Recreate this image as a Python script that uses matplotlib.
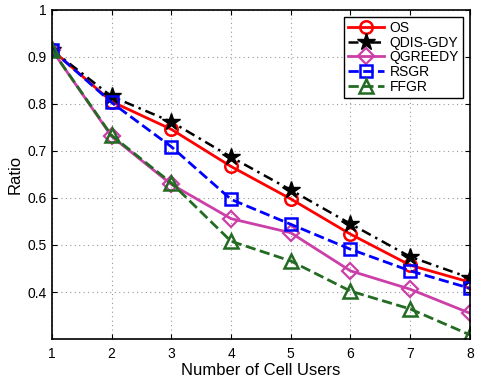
import matplotlib
matplotlib.use("Agg")
import matplotlib.pyplot as plt

plt.rcParams["font.family"] = ["Liberation Sans", "DejaVu Sans"]

# Data
users = [1, 2, 3, 4, 5, 6, 7, 8]
os_ratio = [0.915, 0.805, 0.746, 0.667, 0.598, 0.523, 0.457, 0.421]
qdis_ratio = [0.915, 0.816, 0.762, 0.687, 0.617, 0.545, 0.475, 0.430]
qgreedy_ratio = [0.915, 0.731, 0.629, 0.556, 0.526, 0.445, 0.406, 0.355]
rsgr_ratio = [0.915, 0.803, 0.709, 0.597, 0.544, 0.491, 0.445, 0.408]
ffgr_ratio = [0.915, 0.733, 0.632, 0.508, 0.466, 0.402, 0.364, 0.309]

fig = plt.figure(figsize=(4.8, 3.78), dpi=100)
ax = fig.add_axes([0.108, 0.103, 0.871, 0.871])

pink = "#CC3FA8"
green = "#236B23"

ax.plot(users, os_ratio, "-", color="red", lw=2, marker="o", ms=9,
        mfc="none", mew=1.8, label="OS")
ax.plot(users, qdis_ratio, color="black", lw=1.8, marker="*", ms=13,
        mfc="black", mew=1, label="QDIS-GDY", dashes=(4, 2, 1, 2))
ax.plot(users, qgreedy_ratio, "-", color=pink, lw=2, marker="D", ms=8,
        mfc="none", mew=1.6, label="QGREEDY")
ax.plot(users, rsgr_ratio, "--", color="blue", lw=2, marker="s", ms=8,
        mfc="none", mew=1.8, label="RSGR")
ax.plot(users, ffgr_ratio, "--", color=green, lw=2, marker="^", ms=10,
        mfc="none", mew=1.8, label="FFGR")

ax.set_xlim(1, 8)
ax.set_ylim(0.3, 1.0)
ax.set_xticks(users)
ax.set_yticks([0.4, 0.5, 0.6, 0.7, 0.8, 0.9, 1.0])
ax.set_yticklabels(["0.4", "0.5", "0.6", "0.7", "0.8", "0.9", "1"])
ax.grid(True, color="#999999", lw=0.8, dashes=(1, 3))
ax.tick_params(direction="in", top=True, right=True, labelsize=10)
ax.tick_params(axis="x", pad=6)
for s in ax.spines.values():
    s.set_linewidth(1.2)

ax.set_xlabel("Number of Cell Users", fontsize=12, labelpad=1)
ax.set_ylabel("Ratio", fontsize=12, labelpad=4)

leg = ax.legend(loc="upper right", fontsize=10, fancybox=False, framealpha=1,
                edgecolor="black", handlelength=2.6, borderpad=0.3,
                labelspacing=0.05, handletextpad=0.4, borderaxespad=0.5)
leg.get_frame().set_linewidth(1.0)

plt.savefig("out.png", dpi=100)
plt.close()
